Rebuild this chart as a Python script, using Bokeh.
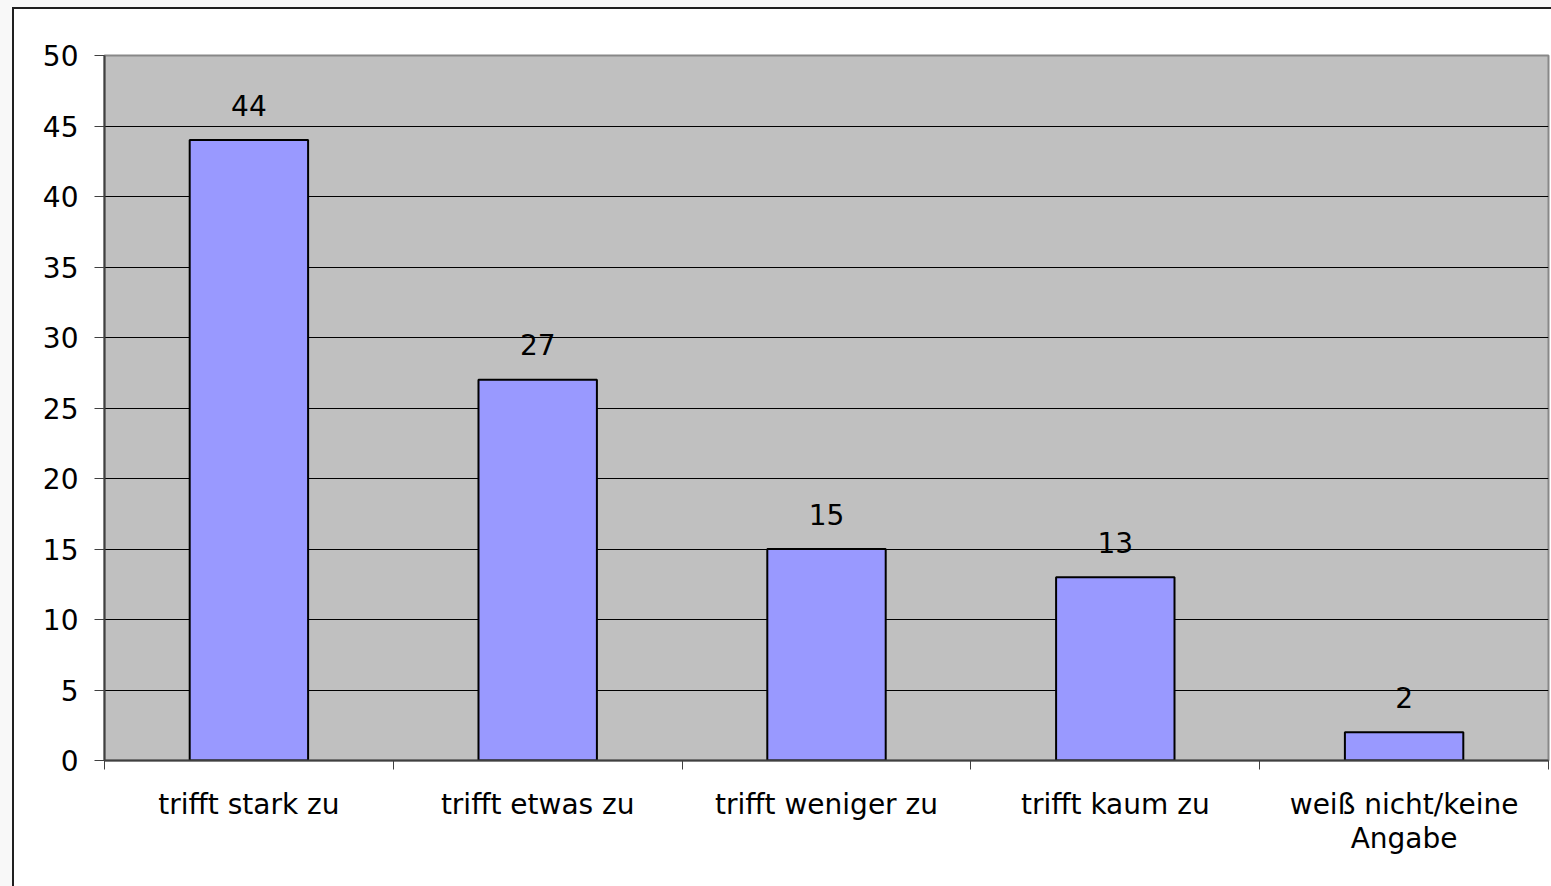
from bokeh.plotting import figure
from bokeh.models import ColumnDataSource, FixedTicker, Range1d
from bokeh.core.properties import value
from bokeh.embed import file_html
from bokeh.resources import INLINE

categories = ["trifft stark zu", "trifft etwas zu", "trifft weniger zu", "trifft kaum zu", "weiß nicht/keine\nAngabe"]
values = [44, 27, 15, 13, 2]
y_ticks = [0, 5, 10, 15, 20, 25, 30, 35, 40, 45, 50]

xs = list(range(1, len(categories) + 1))
src = ColumnDataSource(dict(x=xs, top=values, label=[str(v) for v in values]))

FONT = "DejaVu Sans"
FS = "28px"

p = figure(width=1551, height=886, output_backend="svg", toolbar_location=None,
           x_range=Range1d(0.5, len(categories) + 0.5), y_range=Range1d(0, 50),
           min_border_left=104, min_border_top=55, min_border_right=3, min_border_bottom=126)
p.styles = {
    "background": ("linear-gradient(to bottom, #f8f8f8 0px, #f8f8f8 7px, transparent 7px), "
                   "linear-gradient(to right, #f8f8f8 0px, #f8f8f8 12px, #202020 12px, #202020 14px, transparent 14px), "
                   "linear-gradient(to bottom, #f8f8f8 0px, #f8f8f8 7px, #202020 7px, #202020 9px, #ffffff 9px)")
}
p.background_fill_color = "#C0C0C0"
p.border_fill_color = None
p.outline_line_color = "#888888"
p.outline_line_width = 2

p.vbar(x="x", top="top", width=0.41, source=src, fill_color="#9999FF", line_color="black", line_width=2)
p.text(x="x", y="top", text="label", source=src, text_align="center", text_baseline="alphabetic",
       y_offset=-35, text_font=value(FONT), text_font_size=FS, text_color="black")

# y axis
p.yaxis.ticker = FixedTicker(ticks=y_ticks)
p.yaxis.major_tick_out = 10
p.yaxis.major_tick_in = 0
p.yaxis.minor_tick_line_color = None
p.yaxis.axis_line_color = "#404040"
p.yaxis.axis_line_width = 2
p.yaxis.major_tick_line_color = "#404040"
p.yaxis.major_label_text_font = FONT
p.yaxis.major_label_text_font_size = FS
p.yaxis.major_label_text_color = "black"
p.yaxis.major_label_standoff = 16

# x axis
p.xaxis.ticker = FixedTicker(ticks=xs, minor_ticks=[i + 0.5 for i in range(0, len(categories) + 1)])
p.xaxis.major_label_overrides = {i + 1: c for i, c in enumerate(categories)}
p.xaxis.major_tick_out = 0
p.xaxis.major_tick_in = 0
p.xaxis.minor_tick_out = 9
p.xaxis.minor_tick_in = 0
p.xaxis.minor_tick_line_color = "#404040"
p.xaxis.axis_line_color = "#404040"
p.xaxis.axis_line_width = 2
p.xaxis.major_label_text_font = FONT
p.xaxis.major_label_text_font_size = FS
p.xaxis.major_label_text_line_height = 1.05
p.xaxis.major_label_text_color = "black"
p.xaxis.major_label_standoff = 18

p.xgrid.grid_line_color = None
p.ygrid.ticker = FixedTicker(ticks=y_ticks[1:-1])
p.ygrid.grid_line_color = "black"
p.ygrid.grid_line_width = 1

open("out.html", "w").write(file_html(p, INLINE))
